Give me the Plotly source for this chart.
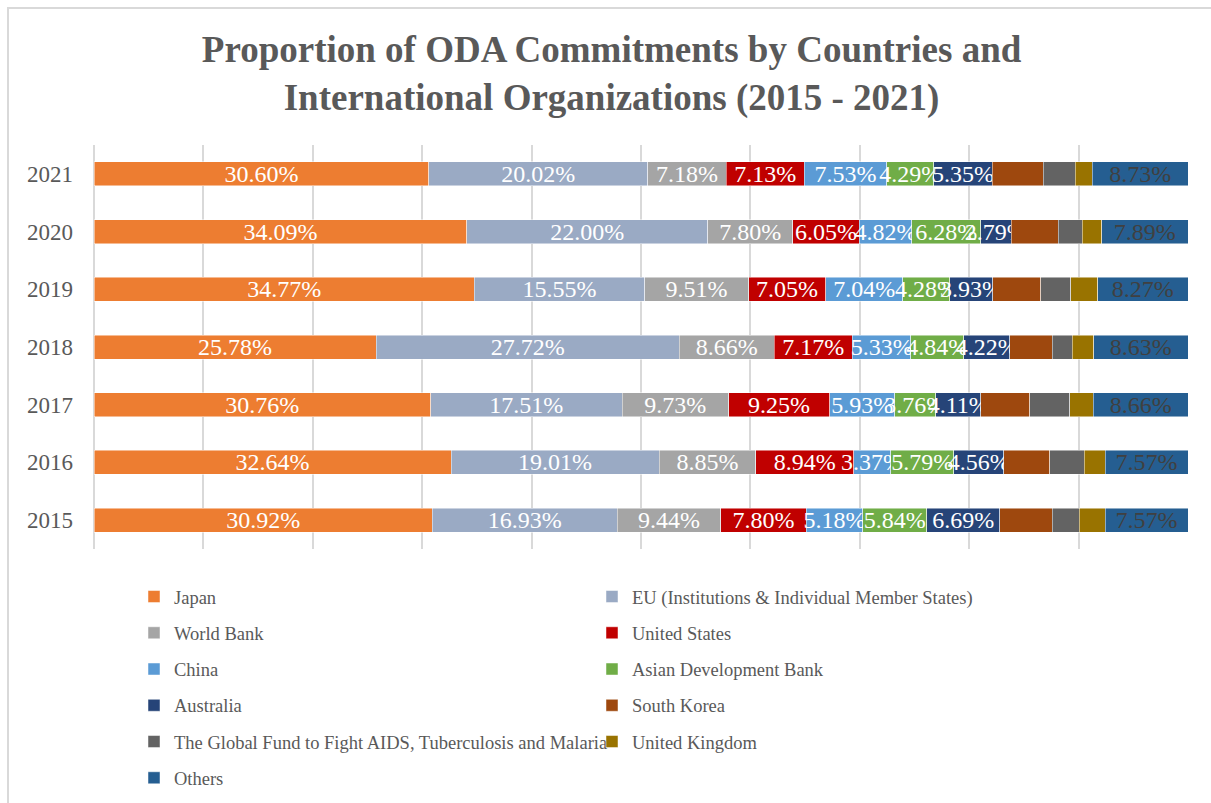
import plotly.graph_objects as go

years = ["2015", "2016", "2017", "2018", "2019", "2020", "2021"]

series_names = [
    "Japan",
    "EU (Institutions & Individual Member States)",
    "World Bank",
    "United States",
    "China",
    "Asian Development Bank",
    "Australia",
    "South Korea",
    "The Global Fund to Fight AIDS, Tuberculosis and Malaria",
    "United Kingdom",
    "Others",
]

# shares per year (2015 -> 2021), in percent
japan = [30.92, 32.64, 30.76, 25.78, 34.77, 34.09, 30.60]
eu = [16.93, 19.01, 17.51, 27.72, 15.55, 22.00, 20.02]
world_bank = [9.44, 8.85, 9.73, 8.66, 9.51, 7.80, 7.18]
united_states = [7.80, 8.94, 9.25, 7.17, 7.05, 6.05, 7.13]
china = [5.18, 3.37, 5.93, 5.33, 7.04, 4.82, 7.53]
adb = [5.84, 5.79, 3.76, 4.84, 4.28, 6.28, 4.29]
australia = [6.69, 4.56, 4.11, 4.22, 3.93, 2.79, 5.35]
south_korea = [4.77, 4.18, 4.48, 3.87, 4.39, 4.30, 4.66]
global_fund = [2.48, 3.19, 3.65, 1.83, 2.74, 2.20, 2.93]
united_kingdom = [2.38, 1.90, 2.16, 1.95, 2.47, 1.78, 1.58]
others = [7.57, 7.57, 8.66, 8.63, 8.27, 7.89, 8.73]

series_values = [japan, eu, world_bank, united_states, china, adb,
                 australia, south_korea, global_fund, united_kingdom, others]

colors = ["#ED7D31", "#9AAAC4", "#A5A5A5", "#C00000", "#5B9BD5", "#70AD47",
          "#264478", "#9E480E", "#636363", "#997300", "#255E91"]

# which series carry value labels, and in what colour
label_colors = ["white"] * 7 + [None, None, None, "#404040"]

# two legend columns, filled row by row
legend_ref = ["legend", "legend2"] * 6

SERIF = "Liberation Serif, Times New Roman, serif"
GREY = "#595959"
W, H = 1211, 803

# plot area in pixels
PL, PR, PT, PB = 94, 1188, 145, 549
PW, PH = PR - PL, PB - PT


def px_x(x):
    return (x - PL) / PW


def px_y(y):
    return (PB - y) / PH


fig = go.Figure()
for i, (name, vals, col, lc) in enumerate(zip(series_names, series_values, colors, label_colors)):
    if lc is not None:
        kw = dict(
            texttemplate="%{x:.2f}%",
            textposition="inside",
            insidetextanchor="middle",
            constraintext="none",
            insidetextfont=dict(family=SERIF, size=24, color=lc),
        )
    else:
        kw = dict(textposition="none")
    fig.add_trace(go.Bar(
        y=years, x=vals, name=name, orientation="h",
        marker=dict(color=col, line=dict(color="rgba(255,255,255,0.6)", width=0.8)),
        legend=legend_ref[i], legendgroup=name,
        hovertemplate="%{y}: %{x:.2f}%<extra>" + name + "</extra>",
        **kw,
    ))

LEG_TOP = 578

legend_common = dict(
    orientation="v",
    font=dict(family=SERIF, size=18.5, color=GREY),
    bgcolor="rgba(0,0,0,0)",
    itemwidth=30,
    tracegroupgap=9.2,
    xref="paper",
    yref="container",
    xanchor="left",
    yanchor="top",
    y=1 - LEG_TOP / H,
)

fig.update_layout(
    width=W,
    height=H,
    margin=dict(l=PL, r=W - PR, t=PT, b=H - PB),
    paper_bgcolor="white",
    plot_bgcolor="white",
    barmode="stack",
    bargap=0.584,
    title=dict(
        text="Proportion of ODA Commitments by Countries and<br>International Organizations (2015 - 2021)",
        font=dict(family=SERIF, size=37, color=GREY, weight="bold"),
        x=0.505, xanchor="center",
        yref="container", y=1 - 62 / H, yanchor="middle",
    ),
    xaxis=dict(
        range=[0, 100],
        dtick=10,
        showticklabels=False,
        showgrid=True,
        gridcolor="#D9D9D9",
        gridwidth=1.5,
        zeroline=True,
        zerolinecolor="#D9D9D9",
        zerolinewidth=1.5,
        fixedrange=True,
    ),
    yaxis=dict(
        type="category",
        categoryorder="array",
        categoryarray=years,
        tickfont=dict(family=SERIF, size=23, color=GREY),
        ticklabelstandoff=20,
        showgrid=False,
        zeroline=False,
        fixedrange=True,
    ),
    legend=dict(x=px_x(134), **legend_common),
    legend2=dict(x=px_x(592), **legend_common),
    showlegend=True,
    shapes=[dict(
        type="rect", xref="paper", yref="paper",
        x0=px_x(8), x1=px_x(1230),
        y0=px_y(830), y1=px_y(8),
        line=dict(color="#D9D9D9", width=2),
        fillcolor="rgba(0,0,0,0)", layer="below",
    )],
)

fig.write_html("out.html")
